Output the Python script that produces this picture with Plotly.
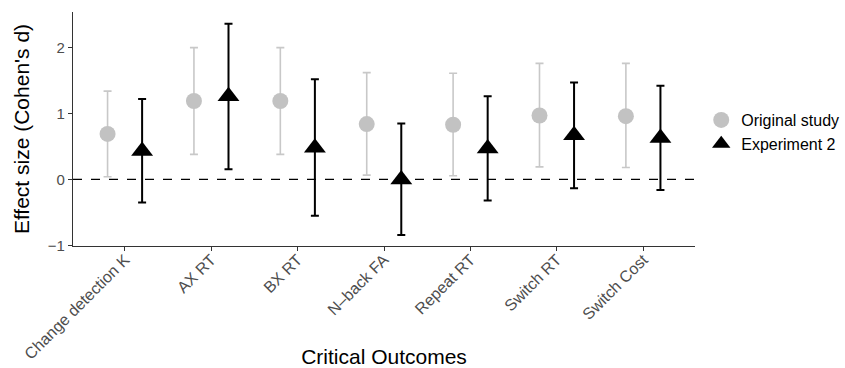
import plotly.graph_objects as go

categories = ["Change detection K", "AX RT", "BX RT", "N\u2013back FA", "Repeat RT", "Switch RT", "Switch Cost"]
orig_d = [0.69, 1.19, 1.19, 0.84, 0.83, 0.97, 0.96]
orig_hi = [1.34, 2.00, 2.00, 1.62, 1.61, 1.76, 1.76]
orig_lo = [0.04, 0.38, 0.38, 0.065, 0.055, 0.19, 0.18]
exp_d = [0.43, 1.26, 0.48, 0.00, 0.47, 0.67, 0.63]
exp_hi = [1.22, 2.36, 1.52, 0.85, 1.26, 1.47, 1.42]
exp_lo = [-0.35, 0.155, -0.55, -0.845, -0.32, -0.135, -0.16]
series_names = ["Original study", "Experiment 2"]

dodge = 0.2
idx = list(range(len(categories)))

fig = go.Figure()
fig.add_trace(go.Scatter(
    x=[i - dodge for i in idx], y=orig_d, mode="markers", name=series_names[0],
    marker=dict(symbol="circle", size=16, color="#c2c2c2"),
    error_y=dict(type="data", symmetric=False,
                 array=[h - d for h, d in zip(orig_hi, orig_d)],
                 arrayminus=[d - l for d, l in zip(orig_d, orig_lo)],
                 color="#c8c8c8", thickness=1.6, width=4),
))
fig.add_trace(go.Scatter(
    x=[i + dodge for i in idx], y=exp_d, mode="markers", name=series_names[1],
    marker=dict(symbol="triangle-up", size=19, color="black"),
    error_y=dict(type="data", symmetric=False,
                 array=[h - d for h, d in zip(exp_hi, exp_d)],
                 arrayminus=[d - l for d, l in zip(exp_d, exp_lo)],
                 color="black", thickness=2, width=4),
))
fig.add_hline(y=0, line=dict(color="black", width=1.3, dash="dash"))

fig.update_layout(
    width=845, height=368,
    margin=dict(l=73, r=150, t=12, b=122, autoexpand=False),
    plot_bgcolor="white", paper_bgcolor="white",
    font=dict(family="Liberation Sans, Arial, sans-serif", color="black"),
    legend=dict(x=1.01, y=0.487, yanchor="middle", xanchor="left",
                font=dict(size=16, color="black"), tracegroupgap=0, itemsizing="trace"),
    xaxis=dict(range=[-0.6, 6.6], tickmode="array", tickvals=idx, ticktext=categories,
               tickangle=-45, tickfont=dict(size=16, color="#4d4d4d"),
               ticklabelstandoff=-7,
               showline=True, linecolor="#333", linewidth=1.3, ticks="outside",
               ticklen=4, tickcolor="#333", showgrid=False, zeroline=False, automargin=False,
               title=dict(text="Critical Outcomes", font=dict(size=21), standoff=8)),
    yaxis=dict(range=[-1.01, 2.54], tickvals=[-1, 0, 1, 2],
               ticktext=["\u22121", "0", "1", "2"],
               tickfont=dict(size=15, color="#4d4d4d"),
               showline=True, linecolor="#333", linewidth=1.3, ticks="outside",
               ticklen=4, tickcolor="#333", showgrid=False, zeroline=False, automargin=False,
               title=dict(text="Effect size (Cohen's d)", font=dict(size=21), standoff=12)),
)

fig.write_html("out.html", config={"displayModeBar": False},
               post_script="document.body.style.margin='0';")
